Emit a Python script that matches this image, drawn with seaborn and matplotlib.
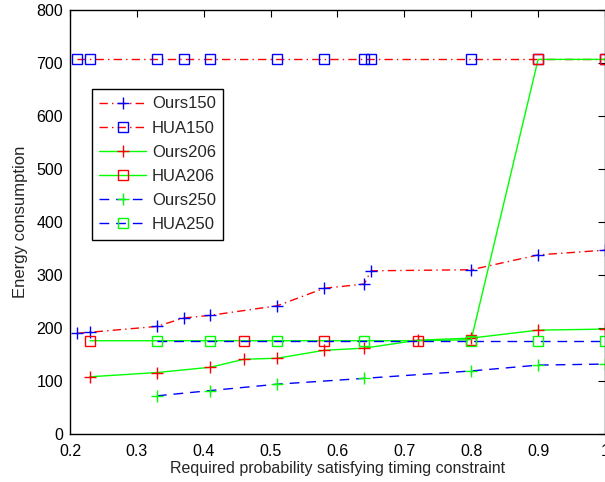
import numpy as np
import pandas as pd
import matplotlib
matplotlib.use("Agg")
import matplotlib.pyplot as plt
import seaborn as sns

# values
x_ours150 = [0.21, 0.23, 0.33, 0.37, 0.41, 0.51, 0.58, 0.64, 0.65, 0.80, 0.90, 1.00]
y_ours150 = [190, 192, 203, 219, 224, 242, 275, 283, 308, 310, 338, 347]

x_hua150 = [0.21, 0.23, 0.33, 0.37, 0.41, 0.51, 0.58, 0.64, 0.65, 0.80, 0.90, 1.00]
y_hua150 = [707] * 12

x_ours206 = [0.23, 0.33, 0.41, 0.46, 0.51, 0.58, 0.64, 0.72, 0.80, 0.90, 1.00]
y_ours206 = [108, 116, 126, 141, 143, 158, 162, 177, 181, 196, 198]

x_hua206 = [0.23, 0.46, 0.58, 0.72, 0.80, 0.90, 1.00]
y_hua206 = [176, 176, 176, 176, 178, 707, 707]

x_ours250 = [0.33, 0.41, 0.51, 0.64, 0.80, 0.90, 1.00]
y_ours250 = [72, 82, 94, 105, 119, 130, 132]

x_hua250 = [0.33, 0.41, 0.51, 0.64, 0.80, 0.90, 1.00]
y_hua250 = [176] * 7

series = [
    ("Ours150", x_ours150, y_ours150, "#ff0000", (0, (6, 3, 1, 3)), "+", "#0000ff"),
    ("HUA150", x_hua150, y_hua150, "#ff0000", (0, (6, 3, 1, 3)), "s", "#0000ff"),
    ("Ours206", x_ours206, y_ours206, "#00ff00", "-", "+", "#ff0000"),
    ("HUA206", x_hua206, y_hua206, "#00ff00", "-", "s", "#ff0000"),
    ("Ours250", x_ours250, y_ours250, "#0000ff", (0, (7, 5)), "+", "#00ff00"),
    ("HUA250", x_hua250, y_hua250, "#0000ff", (0, (7, 5)), "s", "#00ff00"),
]

sns.set_style("white")
plt.rcParams["font.family"] = ["Liberation Sans", "DejaVu Sans"]
plt.rcParams["xtick.direction"] = "in"
plt.rcParams["ytick.direction"] = "in"

fig = plt.figure(figsize=(6.05, 4.82), dpi=100)
ax = fig.add_axes([0.1157, 0.0996, 0.8843, 0.8794])

for name, xs, ys, lc, ls, mk, mc in series:
    df = pd.DataFrame({"x": xs, "y": ys})
    sns.lineplot(data=df, x="x", y="y", ax=ax, sort=False, color=lc,
                 linestyle=ls, linewidth=1.0, marker=mk,
                 markersize=9 if mk == "+" else 7,
                 markerfacecolor="none", markeredgecolor=mc,
                 markeredgewidth=1.0, label=name)

ax.set_xlim(0.2, 1.0)
ax.set_ylim(0, 800)
ax.set_xticks(np.arange(0.2, 1.01, 0.1))
ax.set_xticklabels(["0.2", "0.3", "0.4", "0.5", "0.6", "0.7", "0.8", "0.9", "1"])
ax.set_yticks(range(0, 801, 100))
ax.tick_params(axis="both", labelsize=11.5, length=5, width=0.8, colors="black",
               top=True, right=True)
ax.tick_params(axis="x", pad=7)
ax.tick_params(axis="y", pad=5)
for sp in ax.spines.values():
    sp.set_color("black")
    sp.set_linewidth(1.0)

ax.set_xlabel("Required probability satisfying timing constraint", fontsize=11.5, labelpad=2)
ax.set_ylabel("Energy consumption", fontsize=12, labelpad=6)

leg = ax.legend(loc="upper left", bbox_to_anchor=(0.041, 0.814), borderaxespad=0,
                fontsize=12, frameon=True, fancybox=False, framealpha=1,
                edgecolor="black", handlelength=2.8, borderpad=0.45,
                labelspacing=0.55, handletextpad=0.35)
leg.get_frame().set_linewidth(1.0)

fig.savefig("out.png", dpi=100)
